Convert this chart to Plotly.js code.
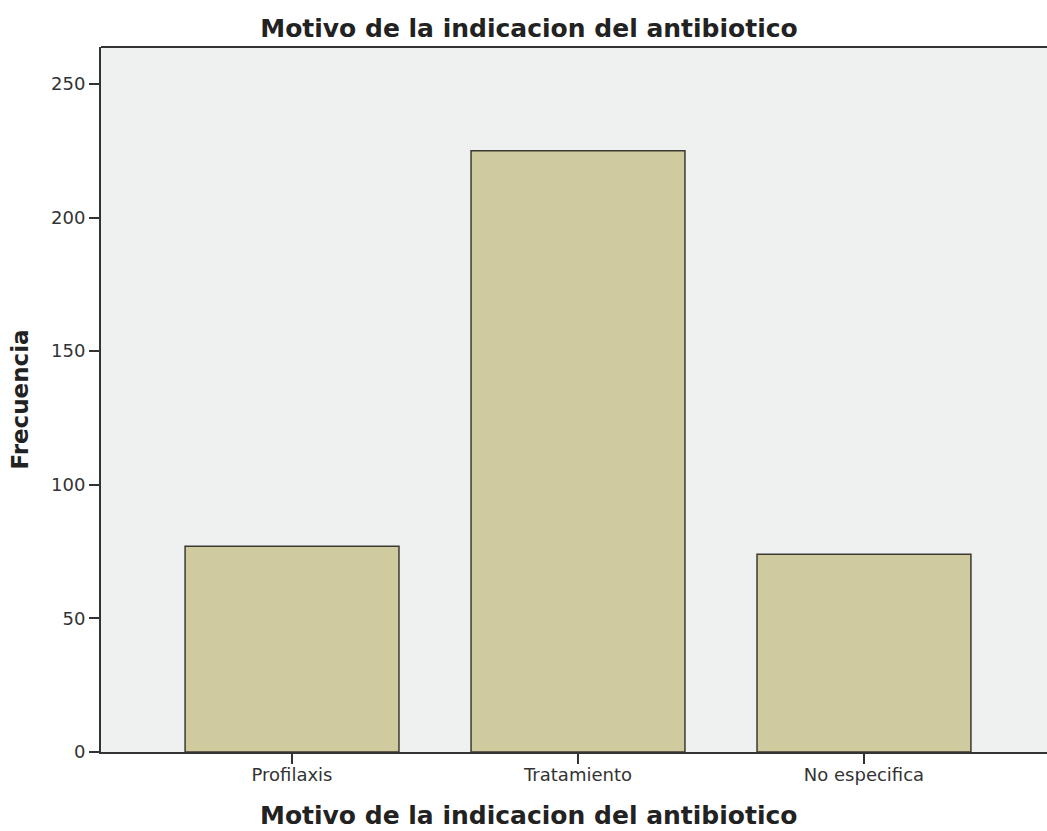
<!DOCTYPE html>
<html><head><meta charset="utf-8">
<script src="https://cdn.plot.ly/plotly-3.0.1.min.js"></script>
<style>html,body{margin:0;padding:0;background:#fff}</style>
</head><body>
<div id="chart" style="width:1047px;height:831px"></div>
<script>
const categories = ["Profilaxis", "Tratamiento", "No especifica"];
const frequencies = [77, 225, 74];
const yTicks = [0, 50, 100, 150, 200, 250];
const chartTitle = 'Motivo de la indicacion del antibiotico';
const xTitle = 'Motivo de la indicacion del antibiotico';
const yTitle = 'Frecuencia';

const trace = {
  type: 'bar',
  x: categories,
  y: frequencies,
  marker: {color: '#d0cb9e', line: {color: '#3b3a32', width: 1.5}},
  hoverinfo: 'x+y'
};

const titleFont = {size: 25, color: '#222', family: '"DejaVu Sans", sans-serif', weight: 'bold'};
const yTitleFont = {size: 23, color: '#222', family: '"DejaVu Sans", sans-serif', weight: 'bold'};
const tickFont = {size: 18, color: '#333', family: '"DejaVu Sans", sans-serif'};

const layout = {
  width: 1047, height: 831,
  margin: {l: 101, r: 0, t: 47, b: 79},
  paper_bgcolor: '#ffffff',
  plot_bgcolor: '#eff1f0',
  bargap: 0.252,
  showlegend: false,
  font: {family: '"DejaVu Sans", sans-serif', color: '#333'},
  title: {
    text: chartTitle,
    font: titleFont,
    x: 529/1047, xref: 'container', xanchor: 'center',
    y: 1 - 28/831, yref: 'container', yanchor: 'middle'
  },
  xaxis: {
    range: [-0.668, 2.64],
    showline: true, linecolor: '#333', linewidth: 2,
    ticks: 'outside', ticklen: 10, tickcolor: '#333', tickwidth: 1.5,
    ticklabelstandoff: -5,
    tickfont: tickFont,
    showgrid: false, zeroline: false
  },
  yaxis: {
    range: [0, 263.8],
    tickvals: yTicks,
    showline: true, linecolor: '#333', linewidth: 2,
    ticks: 'outside', ticklen: 10, tickcolor: '#333', tickwidth: 1.5,
    tickfont: tickFont,
    showgrid: false, zeroline: false,
    title: {text: yTitle, standoff: 16, font: yTitleFont}
  },
  annotations: [{
    text: xTitle, font: titleFont, showarrow: false,
    xref: 'paper', yref: 'paper',
    x: (529 - 101) / 946, xanchor: 'center',
    y: -(815 - 752) / 705, yanchor: 'middle'
  }],
  shapes: [{type: 'line', xref: 'paper', yref: 'paper', x0: 0, x1: 1, y0: 1, y1: 1,
    line: {color: '#333', width: 2}}]
};

Plotly.newPlot('chart', [trace], layout, {displayModeBar: false});
</script>
</body></html>
